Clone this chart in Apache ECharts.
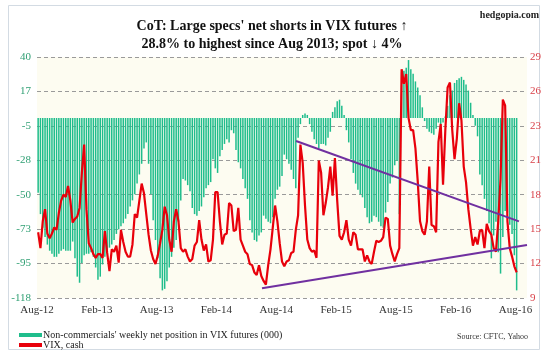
<!DOCTYPE html>
<html>
<head>
<meta charset="utf-8">
<script src="https://cdn.jsdelivr.net/npm/echarts@6/dist/echarts.min.js"></script>
<style>
html, body { margin: 0; padding: 0; background: #fff; }
#main { width: 550px; height: 354px; }
</style>
</head>
<body>
<div id="main"></div>
<script>
// x axis labels, one every 26 weeks
var tickLabels = ['Aug-12', 'Feb-13', 'Aug-13', 'Feb-14', 'Aug-14', 'Feb-15', 'Aug-15', 'Feb-16', 'Aug-16'];

// non-commercials net position in VIX futures (000), weekly
var netPos = [
  -49, -63, -72, -78, -83, -87, -89, -91, -91, -89,
  -87, -86, -87, -87, -87, -81, -92, -104, -108, -95,
  -90, -89, -89, -88, -91, -98, -106, -104, -96, -91,
  -88, -85, -83, -80, -76, -73, -71, -69, -66, -63,
  -58, -54, -50, -43, -37, -30, -20, -16, -30, -50,
  -67, -80, -92, -105, -113, -112, -107, -98, -91, -85,
  -80, -68, -54, -40, -41, -44, -48, -59, -63, -64,
  -61, -58, -52, -46, -44, -42, -27, -33, -36, -25,
  -21, -17, -14, -16, -8, -10, -21, -29, -33, -40,
  -46, -53, -67, -75, -80, -81, -77, -75, -64, -66,
  -68, -69, -65, -53, -47, -45, -38, -24, -27, -30,
  -34, -40, -46, -13, -4, 2, 3, 2, -4, -9,
  -14, -17, -20, -17, -17, -18, -13, -9, 4, 7,
  11, 12, 8, 2, -8, -16, -27, -36, -43, -47,
  -50, -52, -59, -65, -69, -68, -64, -65, -68, -71,
  -72, -62, -55, -43, -39, -31, -28, -63, 30, 31,
  33, 38, 32, 29, 24, 20, 15, 7, -2, -7,
  -9, -10, -11, -7, -3, -4, -3, 1, 8, 15,
  18, 23, 25, 26, 27, 25, 22, 18, 10, 2,
  -5, -12, -37, -44, -53, -61, -69, -92, -77, -68,
  -88, -102, -78, -61, -62, -70, -76, -90, -113
];

// VIX cash, weekly
var vix = [
  14.6, 13.3, 15.5, 16.5, 14.5, 14.1, 14.5, 15.0, 14.8, 16.2,
  17.2, 17.7, 17.5, 18.4, 17.2, 15.4, 15.7, 15.9, 16.6, 19.5,
  21.8, 16.5, 13.7, 13.3, 12.8, 12.5, 12.8, 12.8, 12.5, 14.7,
  12.9, 11.4, 13.2, 13.0, 13.5, 12.1, 14.8, 13.8, 13.0, 12.6,
  12.6, 13.6, 16.1, 15.8, 17.2, 18.6, 17.8, 16.1, 14.4, 13.1,
  12.4, 12.0, 12.7, 13.7, 14.8, 16.7, 16.0, 14.0, 13.0, 15.5,
  16.5, 15.5, 13.3, 13.0, 13.2, 12.6, 12.2, 12.4, 13.5, 13.8,
  15.6, 14.0, 13.1, 13.6, 12.2, 12.3, 14.0, 17.9, 17.9, 15.5,
  13.6, 14.4, 14.5, 17.0, 16.8, 14.7, 14.8, 16.6, 14.0, 13.5,
  13.0, 12.8, 12.0, 11.9, 11.3, 11.1, 11.9, 11.0, 10.6, 10.3,
  11.9, 13.2, 15.0, 16.8, 15.5, 13.7, 12.2, 11.8, 12.2, 12.3,
  12.9, 13.0, 14.8, 16.0, 21.8, 20.3, 16.8, 14.0, 13.3, 13.0,
  13.1, 12.5, 20.5, 19.5, 16.0, 17.0, 18.3, 20.0, 17.6, 20.7,
  17.2, 14.3, 14.0, 14.6, 15.6, 14.0, 13.5, 14.6, 14.4, 13.2,
  13.2, 13.2, 12.2, 12.7, 12.2, 12.0, 13.0, 13.9, 13.8, 13.9,
  14.2, 15.8, 15.7, 13.5, 12.8, 12.2, 12.8, 13.3, 28.0, 26.8,
  27.6, 24.0, 23.0, 23.0, 21.5, 18.8, 15.5, 14.7, 14.4, 15.5,
  20.0, 15.2, 15.1, 14.6, 22.0, 23.5, 18.5, 23.0, 26.5, 26.9,
  23.0, 20.6, 22.3, 25.2, 23.8, 20.0, 18.7, 16.5, 14.9, 13.5,
  14.2, 13.6, 14.7, 14.8, 13.3, 15.3, 14.7, 14.4, 13.3, 13.0,
  15.5, 19.0, 25.5, 25.0, 15.5, 13.3, 12.6, 11.8, 11.3
];

// hand drawn trend lines on the VIX scale: [week, vix]
var upperTrend = [[112.1, 22.1], [209.0, 15.5]];
var lowerTrend = [[97.3, 10.0], [212.5, 13.55]];

var barName = "Non-commercials' weekly net position in VIX futures (000)";
var serif = '"Liberation Serif", "DejaVu Serif", serif';

var myChart = echarts.init(document.getElementById('main'));

option = {
  animation: false,
  backgroundColor: '#fff',
  graphic: [
    { type: 'rect', shape: { x: 8.5, y: 5.5, width: 531, height: 344 },
      style: { fill: 'none', stroke: '#d3dbe3', lineWidth: 1 }, silent: true, z: -10 },
    { type: 'text', x: 272, y: 26, style: { text: "CoT: Large specs' net shorts in VIX futures \u2191",
      font: 'bold 14px ' + serif, fill: '#111', textAlign: 'center', textVerticalAlign: 'middle' } },
    { type: 'text', x: 272, y: 44, style: { text: '28.8% to highest since Aug 2013; spot \u2193 4%',
      font: 'bold 14px ' + serif, fill: '#111', textAlign: 'center', textVerticalAlign: 'middle' } },
    { type: 'text', x: 539, y: 15, style: { text: 'hedgopia.com',
      font: 'bold 10px ' + serif, fill: '#222', textAlign: 'right', textVerticalAlign: 'middle' } },
    { type: 'text', x: 528, y: 337, style: { text: 'Source: CFTC, Yahoo',
      font: '8px ' + serif, fill: '#333', textAlign: 'right', textVerticalAlign: 'middle' } }
  ],
  legend: {
    data: [barName, 'VIX, cash'],
    orient: 'vertical',
    left: 19,
    top: 330,
    itemWidth: 23,
    itemHeight: 4,
    itemGap: 0,
    icon: 'rect',
    padding: 0,
    textStyle: { fontFamily: serif, fontSize: 10, color: '#222', lineHeight: 9, padding: [0, 0, 0, -4] }
  },
  grid: {
    left: 37,
    right: 23,
    top: 57,
    bottom: 56,
    show: true,
    backgroundColor: '#fdfcf1',
    borderWidth: 0,
    outerBoundsMode: 'none'
  },
  xAxis: {
    type: 'value',
    min: -0.5,
    max: 212.5,
    interval: 26,
    axisLine: { show: false },
    axisTick: { show: false },
    splitLine: { show: false },
    axisLabel: {
      margin: 7,
      fontFamily: serif,
      fontSize: 11,
      color: '#333',
      showMaxLabel: false,
      formatter: function (v) {
        var i = (v + 0.5) / 26;
        var r = Math.round(i);
        return Math.abs(i - r) < 0.01 && tickLabels[r] ? tickLabels[r] : '';
      }
    }
  },
  yAxis: [
    {
      type: 'value',
      position: 'left',
      min: -118,
      max: 40,
      interval: 158 / 7,
      axisLine: { show: false },
      axisTick: { show: false },
      splitLine: { show: true, lineStyle: { color: '#9a9a9a', type: [4, 3], width: 1 } },
      axisLabel: {
        margin: 6,
        fontFamily: serif,
        fontSize: 11,
        color: '#2f9f73',
        formatter: function (v) { return Math.round(v); }
      }
    },
    {
      type: 'value',
      position: 'right',
      min: 9.2,
      max: 29,
      interval: 19.8 / 7,
      axisLine: { show: false },
      axisTick: { show: false },
      splitLine: { show: false },
      axisLabel: {
        margin: 3,
        fontFamily: serif,
        fontSize: 11,
        color: '#d9424a',
        formatter: function (v) { return Math.round(v); }
      }
    }
  ],
  series: [
    {
      name: barName,
      type: 'bar',
      yAxisIndex: 0,
      barWidth: 1.5,
      itemStyle: { color: '#1fbd8c' },
      data: netPos.map(function (v, i) { return [i, v]; })
    },
    {
      name: 'VIX, cash',
      type: 'line',
      yAxisIndex: 1,
      symbol: 'none',
      lineStyle: { color: '#e8000b', width: 2.2 },
      itemStyle: { color: '#e8000b' },
      data: vix.map(function (v, i) { return [i, v]; }),
      z: 3
    },
    {
      name: 'trend1',
      type: 'line',
      yAxisIndex: 1,
      symbol: 'none',
      clip: false,
      silent: true,
      lineStyle: { color: '#7030a0', width: 2 },
      data: upperTrend,
      z: 4
    },
    {
      name: 'trend2',
      type: 'line',
      yAxisIndex: 1,
      symbol: 'none',
      clip: false,
      silent: true,
      lineStyle: { color: '#7030a0', width: 2 },
      data: lowerTrend,
      z: 4
    }
  ]
};

myChart.setOption(option);
</script>
</body>
</html>
